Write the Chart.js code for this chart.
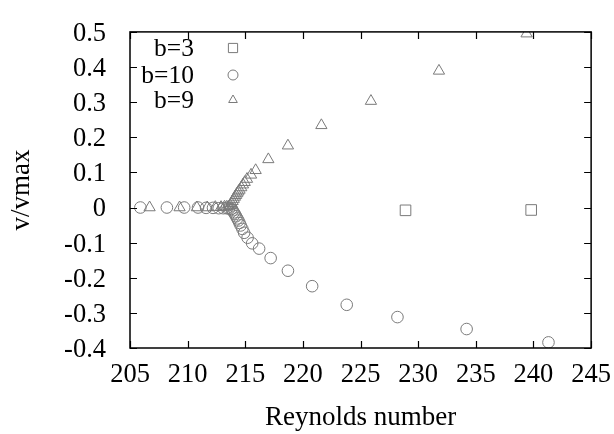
<!DOCTYPE html>
<html>
<head>
<meta charset="utf-8">
<script src="https://cdn.jsdelivr.net/npm/chart.js@4/dist/chart.umd.min.js"></script>
<style>
html,body{margin:0;padding:0;background:#fff;}
#wrap{width:614px;height:434px;position:relative;}
</style>
</head>
<body>
<div id="wrap"><canvas id="c" width="614" height="434"></canvas></div>
<script>
// ---- data ----
const seriesLabels = ["b=3", "b=10", "b=9"];

const b3X = [228.9, 239.8];
const b3Y = [-0.008, -0.007];

const b10X = [205.9, 208.2, 209.7, 210.9, 211.6, 212.2, 212.7, 213.1, 213.4, 213.6, 213.8,
              213.9, 214.0, 214.1, 214.2, 214.3, 214.4, 214.5, 214.6, 214.75, 214.9,
              215.2, 215.6, 216.2, 217.2, 218.7, 220.8, 223.8, 228.2, 234.2, 241.3];
const b10Y = [0.0, 0.0, 0.0, 0.0, -0.001, -0.001, -0.002, -0.002, -0.002, -0.003, -0.004,
              -0.008, -0.014, -0.019, -0.025, -0.031, -0.037, -0.044, -0.051, -0.061, -0.072,
              -0.086, -0.102, -0.117, -0.144, -0.180, -0.224, -0.277, -0.312, -0.346, -0.384];

const b9X = [206.7, 209.3, 210.8, 211.7, 212.4, 212.9, 213.2, 213.4, 213.6,
             213.7, 213.8, 213.9, 214.0, 214.1, 214.2, 214.3, 214.4, 214.5, 214.65, 214.8,
             214.95, 215.15, 215.5, 215.9, 217.0, 218.7, 221.6, 225.9, 231.8, 239.4];
const b9Y = [0.0, 0.0, 0.0, 0.0, 0.001, 0.001, 0.002, 0.002, 0.003,
             0.006, 0.012, 0.018, 0.024, 0.030, 0.035, 0.040, 0.045, 0.050, 0.057, 0.065,
             0.072, 0.081, 0.093, 0.106, 0.137, 0.176, 0.234, 0.303, 0.389, 0.495];

const xTicks = [205, 210, 215, 220, 225, 230, 235, 240, 245];
const yTicks = [-0.4, -0.3, -0.2, -0.1, 0, 0.1, 0.2, 0.3, 0.4, 0.5];
const yTickLabels = ["-0.4", "-0.3", "-0.2", "-0.1", "0", "0.1", "0.2", "0.3", "0.4", "0.5"];
const xTitle = "Reynolds number";
const yTitle = "v/vmax";

// ---- build ----
const pts = (xs, ys) => xs.map((x, i) => ({x: x, y: ys[i]}));
const styles = ["rect", "circle", "triangle"];
const markColor = "#7a7a7a";
const serif = "Liberation Serif";

function build() {
  const datasets = [pts(b3X, b3Y), pts(b10X, b10Y), pts(b9X, b9Y)].map((d, i) => ({
    label: seriesLabels[i],
    data: d,
    pointStyle: styles[i],
    pointRadius: styles[i] === "rect" ? 7.5 : (styles[i] === "triangle" ? 6.5 : 5.8),
    pointHoverRadius: 6,
    backgroundColor: "rgba(0,0,0,0)",
    borderColor: markColor,
    borderWidth: 1,
    showLine: false
  }));

  const frameTicks = {
    id: "frameTicks",
    afterDraw(chart) {
      const {ctx, chartArea: a, scales} = chart;
      ctx.save();
      ctx.strokeStyle = "#000";
      ctx.lineWidth = 1.5;
      ctx.strokeRect(a.left, a.top, a.right - a.left, a.bottom - a.top);
      ctx.lineWidth = 1.2;
      const L = 7;
      ctx.beginPath();
      scales.x.ticks.forEach(t => {
        const px = Math.round(scales.x.getPixelForValue(t.value)) + 0.5;
        ctx.moveTo(px, a.bottom); ctx.lineTo(px, a.bottom - L);
        ctx.moveTo(px, a.top); ctx.lineTo(px, a.top + L);
      });
      scales.y.ticks.forEach(t => {
        const py = Math.round(scales.y.getPixelForValue(t.value)) + 0.5;
        ctx.moveTo(a.left, py); ctx.lineTo(a.left + L, py);
        ctx.moveTo(a.right, py); ctx.lineTo(a.right - L, py);
      });
      ctx.stroke();

      // key (legend)
      const rows = [48, 75, 100];
      ctx.font = "25.5px '" + serif + "'";
      ctx.textAlign = "right";
      ctx.textBaseline = "middle";
      chart.data.datasets.forEach((ds, i) => {
        ctx.fillStyle = "#000";
        ctx.fillText(ds.label, 194, rows[i] + 1);
        ctx.strokeStyle = markColor;
        ctx.fillStyle = "rgba(0,0,0,0)";
        ctx.lineWidth = 1;
        Chart.helpers.drawPoint(ctx, {
          pointStyle: ds.pointStyle,
          radius: ds.pointStyle === "rect" ? 6.5 : 5,
          rotation: 0,
          borderWidth: 1
        }, 233, rows[i]);
      });
      ctx.restore();
    }
  };

  new Chart(document.getElementById("c"), {
    type: "scatter",
    data: {datasets},
    options: {
      responsive: false,
      animation: false,
      devicePixelRatio: 1,
      layout: {padding: {left: 0, top: 9, right: 21, bottom: 0}},
      plugins: {legend: {display: false}, tooltip: {enabled: false}},
      scales: {
        x: {
          type: "linear", min: 205, max: 245,
          afterBuildTicks: s => { s.ticks = xTicks.map(v => ({value: v})); },
          afterFit: s => { s.height = 86; },
          grid: {display: false},
          border: {display: false},
          ticks: {
            color: "#000", font: {family: serif, size: 26.5}, padding: 3,
            maxRotation: 0, autoSkip: false,
            callback: v => String(v)
          },
          title: {display: true, text: xTitle, color: "#000",
                  font: {family: serif, size: 27}, padding: {top: 0, bottom: 0}}
        },
        y: {
          type: "linear", min: -0.4, max: 0.5,
          afterBuildTicks: s => { s.ticks = yTicks.map(v => ({value: v})); },
          afterFit: s => { s.width = 130; },
          grid: {display: false},
          border: {display: false},
          ticks: {
            color: "#000", font: {family: serif, size: 26.5}, padding: 16,
            autoSkip: false, labelOffset: 2,
            callback: (v, i) => yTickLabels[i]
          },
          title: {display: true, text: yTitle, color: "#000",
                  font: {family: serif, size: 27}, padding: {top: 6, bottom: 0}}
        }
      }
    },
    plugins: [frameTicks]
  });
}

Chart.defaults.font.family = serif;
if (document.fonts && document.fonts.load) {
  document.fonts.load("26px '" + serif + "'").then(build, build);
} else {
  build();
}
</script>
</body>
</html>
